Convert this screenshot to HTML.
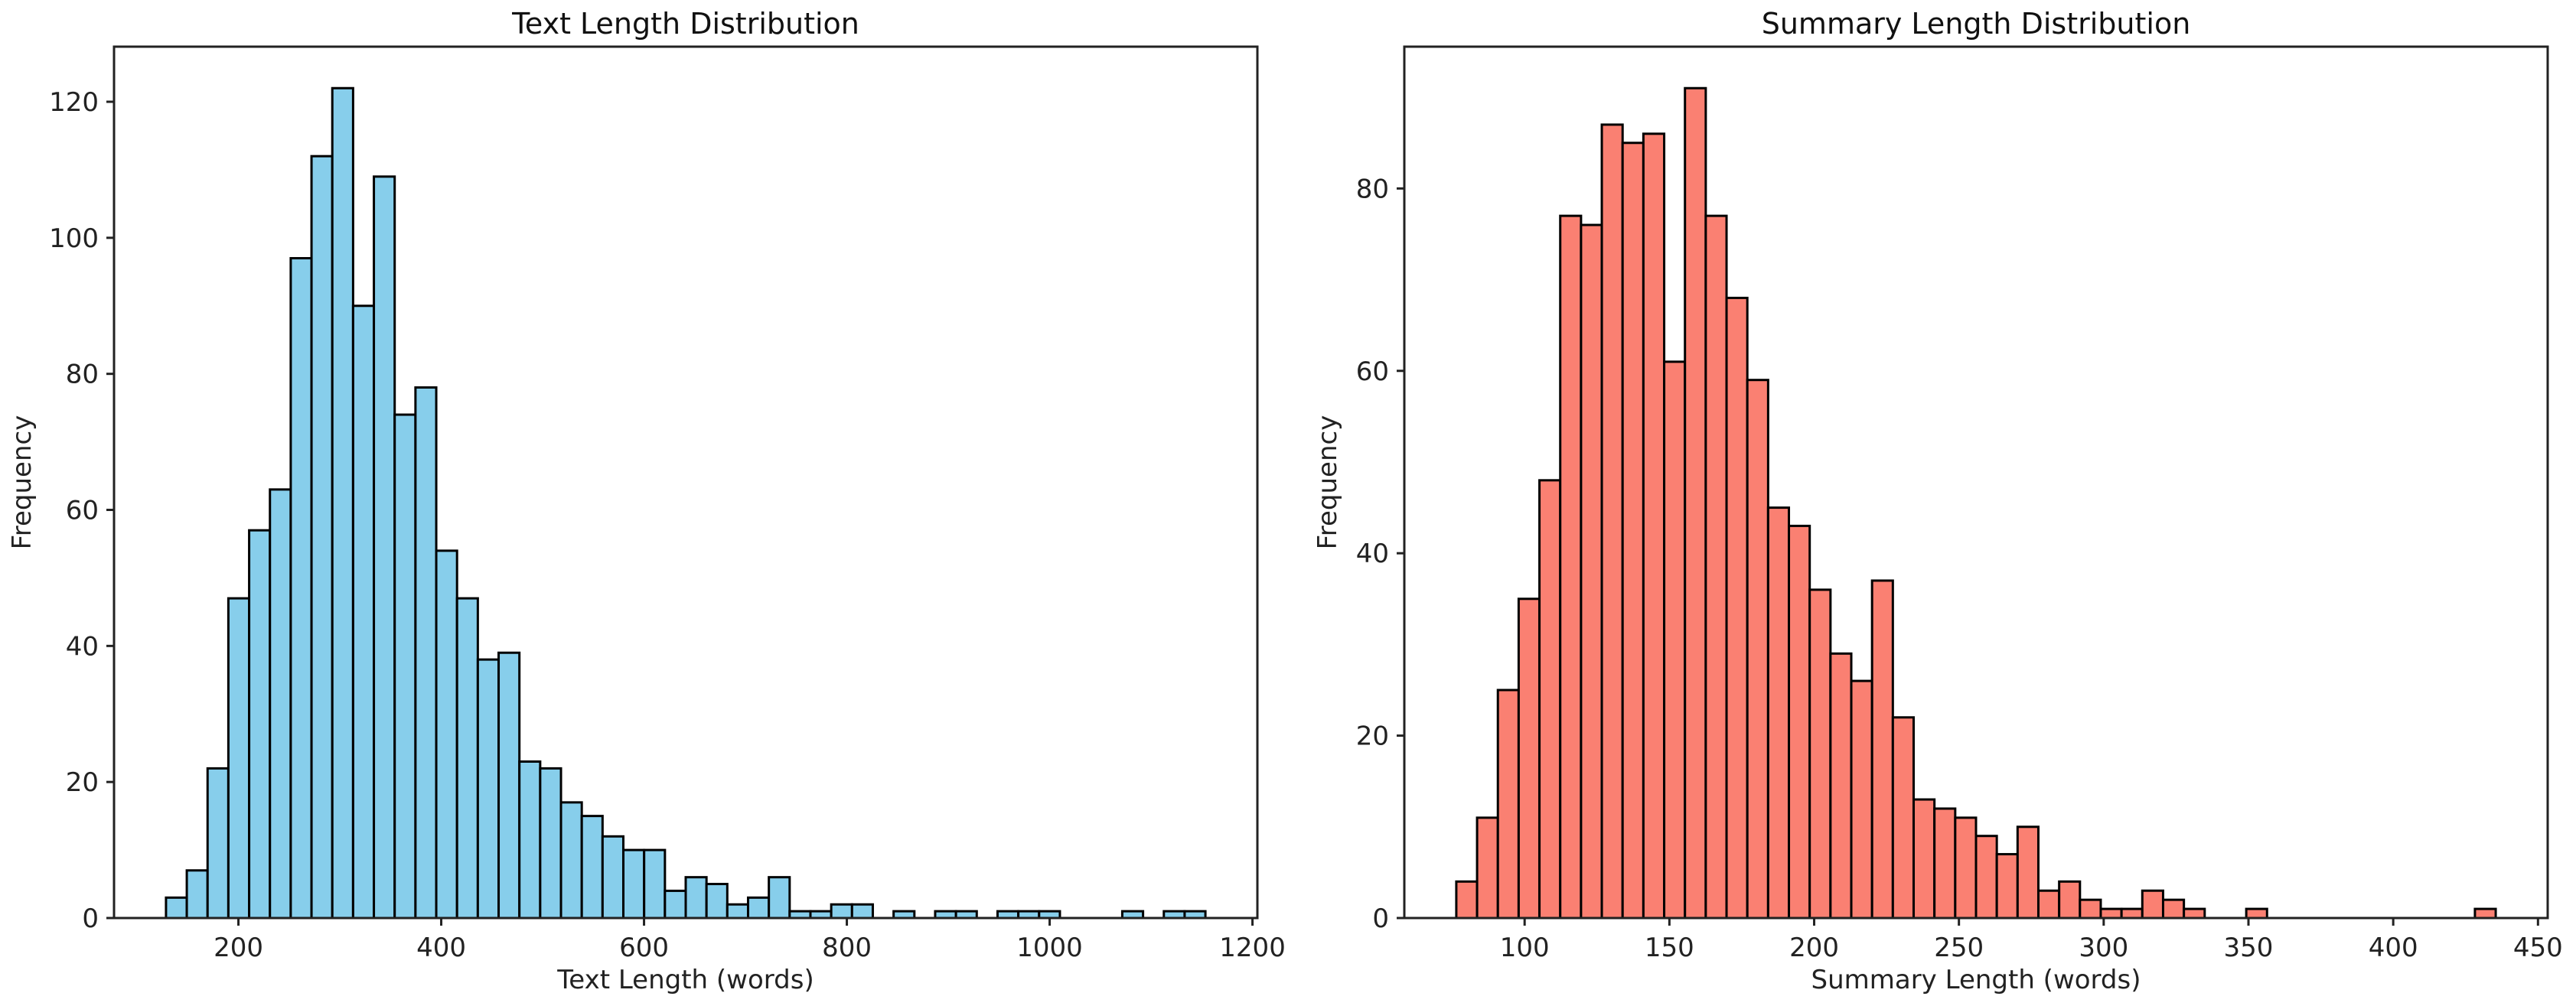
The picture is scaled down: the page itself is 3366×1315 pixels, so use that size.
<!DOCTYPE html>
<html><head><meta charset="utf-8"><style>
html,body{margin:0;padding:0;background:#fff;}
svg{display:block;font-family:"DejaVu Sans","Liberation Sans",sans-serif;}
</style></head><body>
<svg id="fig" width="3366" height="1315" viewBox="0 0 3366 1315" xmlns="http://www.w3.org/2000/svg"></svg>
<script>
// Text length histogram (50 bins)
const textBinStart = 128.6;
const textBinWidth = 20.5;
const textCounts = [3,7,22,47,57,63,97,112,122,90,109,74,78,54,47,38,39,23,22,17,15,12,10,10,4,6,5,2,3,6,1,1,2,2,0,1,0,1,1,0,1,1,1,0,0,0,1,0,1,1];
const textXTicks = [200,400,600,800,1000,1200];
const textYTicks = [0,20,40,60,80,100,120];
// Summary length histogram (50 bins)
const sumBinStart = 76.4;
const sumBinWidth = 7.18;
const sumCounts = [4,11,25,35,48,77,76,87,85,86,61,91,77,68,59,45,43,36,29,26,37,22,13,12,11,9,7,10,3,4,2,1,1,3,2,1,0,0,1,0,0,0,0,0,0,0,0,0,0,1];
const sumXTicks = [100,150,200,250,300,350,400,450];
const sumYTicks = [0,20,40,60,80];

const NS = "http://www.w3.org/2000/svg";
const svg = document.getElementById('fig');
function mk(tag, attrs, parent){
  const e = document.createElementNS(NS, tag);
  for (const k in attrs) e.setAttribute(k, attrs[k]);
  (parent||svg).appendChild(e);
  return e;
}
function drawPanel(o){
  const g = mk('g', {});
  
  
  const n = o.counts.length;
  const dmin = o.start, dmax = o.start + n*o.width;
  const pad = 0.05*(dmax-dmin);
  const xmin = dmin-pad, xmax = dmax+pad;
  const ymax = Math.max(...o.counts)*1.05;
  const X = v => o.L + (v-xmin)/(xmax-xmin)*(o.R-o.L);
  const Y = v => o.B - v/ymax*(o.B-o.T);
  o.counts.forEach((c,i)=>{
    if (c<=0) return;
    const x0 = X(o.start+i*o.width), x1 = X(o.start+(i+1)*o.width);
    const r = mk('rect', {x:x0, y:Y(c), width:x1-x0, height:Y(0)-Y(c), fill:o.color, stroke:'#000', 'stroke-width':3}, g);
    
    
  });
  const fr = mk('rect', {x:o.L, y:o.T, width:o.R-o.L, height:o.B-o.T, fill:'none', stroke:'#222', 'stroke-width':3}, g);
  
  
  o.xticks.forEach(t=>{
    const x = X(t);
    mk('line', {x1:x, x2:x, y1:o.B, y2:o.B+10, stroke:'#222', 'stroke-width':3}, g);
    const tx = mk('text', {x:x, y:o.B+50, 'font-size':34, 'text-anchor':'middle', fill:'#222'}, g);
    tx.textContent = t;
    
    
  });
  o.yticks.forEach(t=>{
    const y = Y(t);
    mk('line', {x1:o.L-10, x2:o.L, y1:y, y2:y, stroke:'#222', 'stroke-width':3}, g);
    const tx = mk('text', {x:o.L-20, y:y+12, 'font-size':34, 'text-anchor':'end', fill:'#222'}, g);
    tx.textContent = t;
    
    
  });
  const ti = mk('text', {x:(o.L+o.R)/2, y:44, 'font-size':38, 'text-anchor':'middle', fill:'#111'}, g);
  ti.textContent = o.title;
  
  
  const xl = mk('text', {x:(o.L+o.R)/2, y:1292, 'font-size':34, 'text-anchor':'middle', fill:'#222'}, g);
  xl.textContent = o.xlabel;
  
  
  const yc = (o.T+o.B)/2;
  const yl = mk('text', {x:o.ylx, y:yc, 'font-size':34, 'text-anchor':'middle', fill:'#222', transform:'rotate(-90 '+o.ylx+' '+yc+')'}, g);
  yl.textContent = 'Frequency';
  
  
}
drawPanel({name:'text-length-panel', L:149, R:1643, T:61, B:1200, start:textBinStart, width:textBinWidth, counts:textCounts, xticks:textXTicks, yticks:textYTicks, color:'#87ceeb', title:'Text Length Distribution', xlabel:'Text Length (words)', ylx:40});
drawPanel({name:'summary-length-panel', L:1835, R:3329, T:61, B:1200, start:sumBinStart, width:sumBinWidth, counts:sumCounts, xticks:sumXTicks, yticks:sumYTicks, color:'#fa8072', title:'Summary Length Distribution', xlabel:'Summary Length (words)', ylx:1746});
</script>
</body></html>
